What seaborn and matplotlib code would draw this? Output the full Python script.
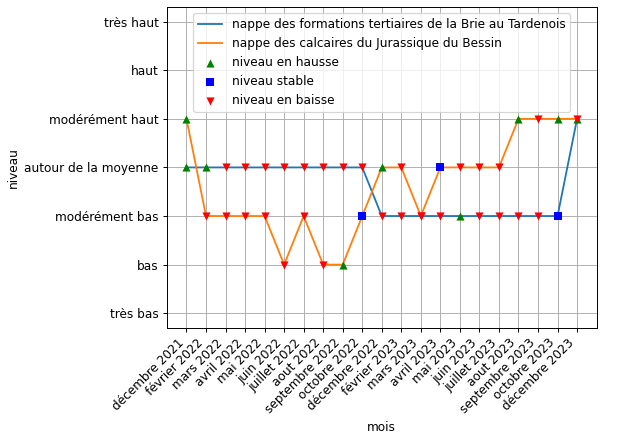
import numpy as np
import matplotlib
matplotlib.use("Agg")
import matplotlib.pyplot as plt
import seaborn as sns

# niveaux possibles (du plus bas au plus haut)
niveaux = ["très bas", "bas", "modérément bas", "autour de la moyenne",
           "modérément haut", "haut", "très haut"]

mois = ["décembre 2021", "février 2022", "mars 2022", "avril 2022", "mai 2022",
        "juin 2022", "juillet 2022", "aout 2022", "septembre 2022", "octobre 2022",
        "décembre 2022", "février 2023", "mars 2023", "avril 2023", "mai 2023",
        "juin 2023", "juillet 2023", "aout 2023", "septembre 2023", "octobre 2023",
        "décembre 2023"]

nom_brie = "nappe des formations tertiaires de la Brie au Tardenois"
nom_bessin = "nappe des calcaires du Jurassique du Bessin"

# indices dans `niveaux`
niveau_brie = [3, 3, 3, 3, 3, 3, 3, 3, 3, 3, 2, 2, 2, 2, 2, 2, 2, 2, 2, 2, 4]
niveau_bessin = [4, 2, 2, 2, 2, 1, 2, 1, 1, 2, 3, 3, 2, 3, 3, 3, 3, 4, 4, 4, 4]

tendance_brie = ["hausse", "hausse", "baisse", "baisse", "baisse", "baisse", "baisse",
                 "baisse", "baisse", "baisse", "baisse", "baisse", "baisse", "baisse",
                 "hausse", "baisse", "baisse", "baisse", "baisse", "stable", "hausse"]
tendance_bessin = ["hausse", "baisse", "baisse", "baisse", "baisse", "baisse", "baisse",
                   "baisse", "hausse", "stable", "hausse", "baisse", "baisse", "stable",
                   "baisse", "baisse", "baisse", "hausse", "baisse", "hausse", "baisse"]

styles = {
    "hausse": ("^", "green", "niveau en hausse"),
    "stable": ("s", "blue", "niveau stable"),
    "baisse": ("v", "red", "niveau en baisse"),
}

idx = np.arange(len(mois))

fig, ax = plt.subplots(figsize=(630 / 87, 440 / 87), dpi=87)
fig.subplots_adjust(left=0.265, right=0.947, top=0.984, bottom=0.255)

sns.lineplot(x=idx, y=niveau_brie, ax=ax, color="C0", label=nom_brie, linewidth=1.5)
sns.lineplot(x=idx, y=niveau_bessin, ax=ax, color="C1", label=nom_bessin, linewidth=1.5)

for t, (marker, color, label) in styles.items():
    xs, ys = [], []
    for niv, tend in ((niveau_brie, tendance_brie), (niveau_bessin, tendance_bessin)):
        for i, (n, tt) in enumerate(zip(niv, tend)):
            if tt == t:
                xs.append(i)
                ys.append(n)
    sns.scatterplot(x=xs, y=ys, ax=ax, marker=marker, color=color, s=45,
                    linewidth=0, label=label, zorder=3)

ax.set_yticks(range(len(niveaux)), niveaux)
ax.set_ylim(-0.3, len(niveaux) - 0.7)
ax.set_xticks(idx, mois, rotation=45, ha="right")
ax.set_xlabel("mois")
ax.set_ylabel("niveau")
ax.grid(True)
# titre coupé en haut, comme sur l'original
ax.set_title("entre décembre 2021 et décembre 2023", pad=7.5, color="#444444")
ax.legend(loc="upper center")

fig.savefig("out.png")
